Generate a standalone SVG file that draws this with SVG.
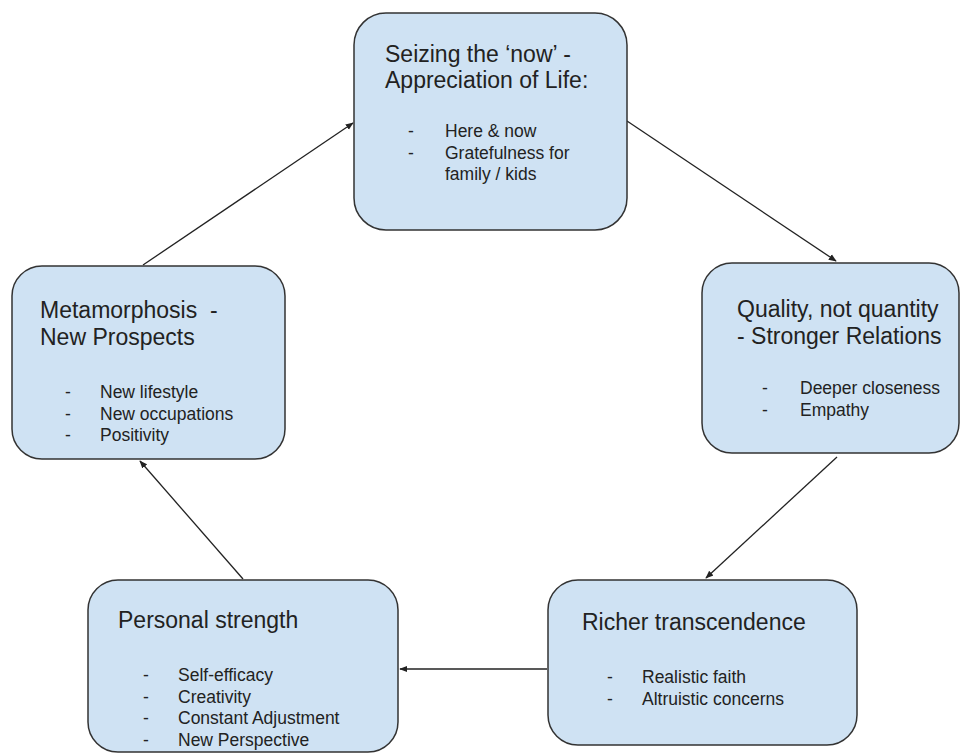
<svg xmlns="http://www.w3.org/2000/svg" width="961" height="754" viewBox="0 0 961 754">
<style>
.box{fill:#cfe2f3;stroke:#333;stroke-width:1.5}
.t{font-family:"Liberation Sans",Arial,sans-serif;font-size:23px;fill:#222}
.b{font-family:"Liberation Sans",Arial,sans-serif;font-size:17.5px;fill:#222}
.c{stroke:#222;stroke-width:1.3;fill:none;marker-end:url(#ah)}
</style>
<defs>
<marker id="ah" viewBox="0 0 10 10" refX="9" refY="5" markerWidth="8" markerHeight="8" markerUnits="userSpaceOnUse" orient="auto">
<path d="M0,1 L10,5 L0,9 z" fill="#222"/>
</marker>
</defs>
<rect width="961" height="754" fill="#fff"/>
<g id="connectors">
<line class="c" x1="627" y1="121" x2="836" y2="261"/>
<line class="c" x1="837" y1="457" x2="706" y2="578"/>
<line class="c" x1="547" y1="669" x2="400" y2="669"/>
<line class="c" x1="243" y1="579" x2="140" y2="461"/>
<line class="c" x1="143" y1="265" x2="353" y2="123"/>
</g>
<g id="node-now">
<rect class="box" x="354" y="13" width="273" height="217" rx="32"/>
<text class="t" x="385" y="62">Seizing the ‘now’ -</text>
<text class="t" x="385" y="88">Appreciation of Life:</text>
<text class="b" x="408" y="137">-</text><text class="b" x="445" y="137">Here &amp; now</text>
<text class="b" x="408" y="158.5">-</text><text class="b" x="445" y="158.5">Gratefulness for</text>
<text class="b" x="445" y="180">family / kids</text>
</g>
<g id="node-quality">
<rect class="box" x="702" y="263" width="257" height="190" rx="30"/>
<text class="t" x="737" y="317">Quality, not quantity</text>
<text class="t" x="737" y="344">- Stronger Relations</text>
<text class="b" x="762" y="394">-</text><text class="b" x="800" y="394">Deeper closeness</text>
<text class="b" x="762" y="415.5">-</text><text class="b" x="800" y="415.5">Empathy</text>
</g>
<g id="node-transcendence">
<rect class="box" x="548" y="580" width="309" height="165" rx="30"/>
<text class="t" x="582" y="630">Richer transcendence</text>
<text class="b" x="607" y="683">-</text><text class="b" x="642" y="683">Realistic faith</text>
<text class="b" x="607" y="704.5">-</text><text class="b" x="642" y="704.5">Altruistic concerns</text>
</g>
<g id="node-strength">
<rect class="box" x="88" y="580" width="310" height="172" rx="30"/>
<text class="t" x="118" y="628">Personal strength</text>
<text class="b" x="143" y="681">-</text><text class="b" x="178" y="681">Self-efficacy</text>
<text class="b" x="143" y="702.5">-</text><text class="b" x="178" y="702.5">Creativity</text>
<text class="b" x="143" y="724">-</text><text class="b" x="178" y="724">Constant Adjustment</text>
<text class="b" x="143" y="745.5">-</text><text class="b" x="178" y="745.5">New Perspective</text>
</g>
<g id="node-metamorphosis">
<rect class="box" x="12" y="266" width="273" height="193" rx="30"/>
<text class="t" x="40" y="318">Metamorphosis &#160;-</text>
<text class="t" x="40" y="345">New Prospects</text>
<text class="b" x="65" y="398">-</text><text class="b" x="100" y="398">New lifestyle</text>
<text class="b" x="65" y="419.5">-</text><text class="b" x="100" y="419.5">New occupations</text>
<text class="b" x="65" y="441">-</text><text class="b" x="100" y="441">Positivity</text>
</g>
</svg>
